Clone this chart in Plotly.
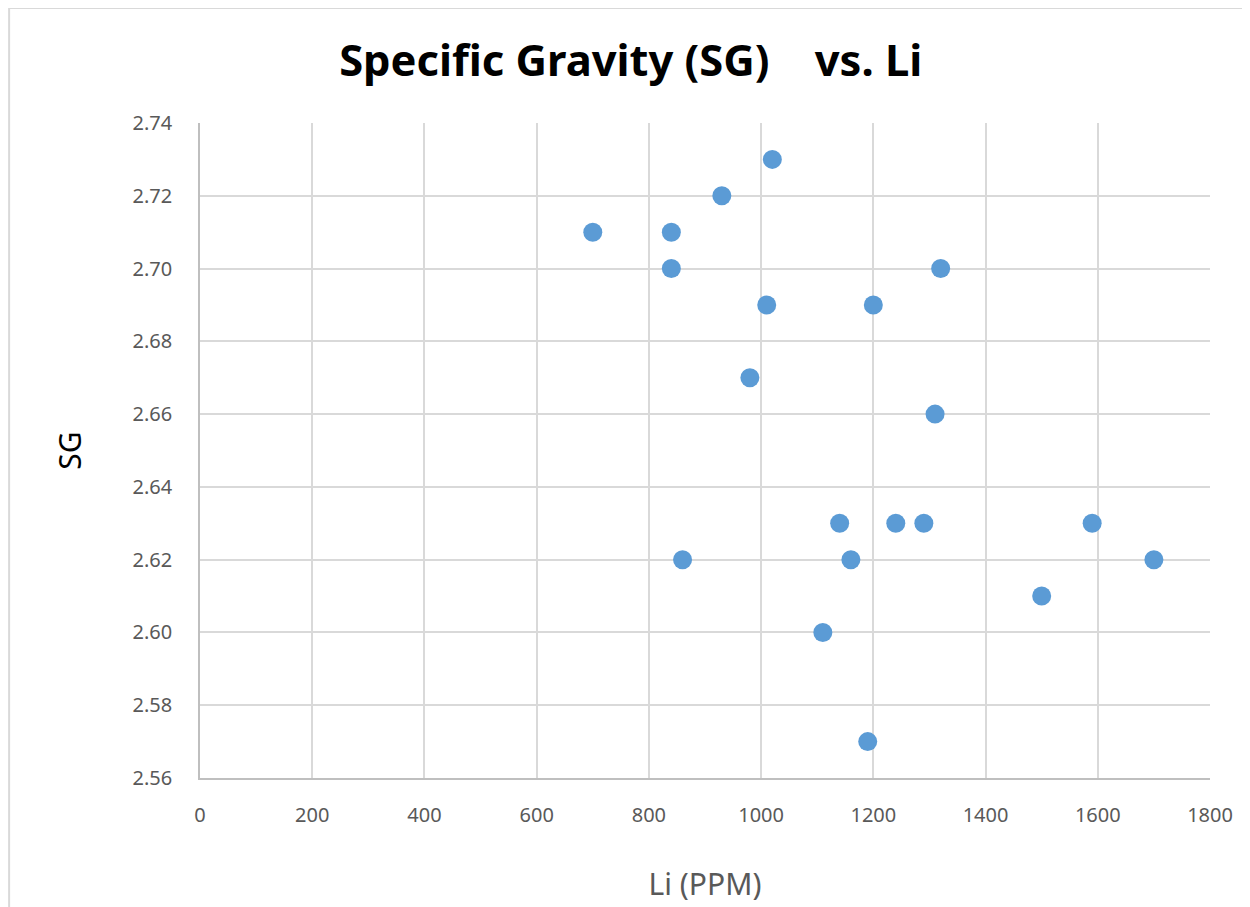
import plotly.graph_objects as go

li_ppm = [700, 840, 840, 930, 1020, 1010, 980, 1200, 1320, 1310,
          860, 1140, 1160, 1240, 1290, 1110, 1190, 1500, 1590, 1700]
sg = [2.71, 2.71, 2.70, 2.72, 2.73, 2.69, 2.67, 2.69, 2.70, 2.66,
      2.62, 2.63, 2.62, 2.63, 2.63, 2.60, 2.57, 2.61, 2.63, 2.62]

x_ticks = [0, 200, 400, 600, 800, 1000, 1200, 1400, 1600, 1800]
y_ticks = [2.56, 2.58, 2.60, 2.62, 2.64, 2.66, 2.68, 2.70, 2.72, 2.74]

FONT = "Noto Sans"
fig = go.Figure()
fig.add_trace(go.Scatter(
    x=li_ppm, y=sg, mode="markers",
    marker=dict(color="#5b9bd5", size=19, line=dict(width=0)),
    showlegend=False,
))

fig.update_layout(
    width=1243, height=900,
    margin=dict(l=192, r=41, t=115, b=130),
    paper_bgcolor="white", plot_bgcolor="white",
    title=dict(text="Specific Gravity (SG)\u00a0\u00a0\u00a0 vs. Li",
               x=0.501, xanchor="center", y=0.941, yanchor="middle",
               font=dict(family=FONT, size=43.5, color="black", weight="bold")),
    xaxis=dict(range=[0, 1800], tickvals=x_ticks, ticktext=[str(v) for v in x_ticks],
               showgrid=True, gridcolor="#d9d9d9", gridwidth=1.5,
               showline=True, linecolor="#bfbfbf", linewidth=1.5,
               zeroline=False, ticks="", ticklabelstandoff=18,
               tickfont=dict(family=FONT, size=20, color="#595959"),
               title=dict(text="Li (PPM)", standoff=47,
                          font=dict(family=FONT, size=30, color="#595959"))),
    yaxis=dict(range=[2.56, 2.74], tickvals=y_ticks, ticktext=[f"{v:.2f}" for v in y_ticks],
               showgrid=True, gridcolor="#d9d9d9", gridwidth=1.5,
               showline=True, linecolor="#bfbfbf", linewidth=1.5,
               zeroline=False, ticks="", ticklabelstandoff=22,
               tickfont=dict(family=FONT, size=20, color="#595959"),
               title=dict(text="SG", standoff=42,
                          font=dict(family=FONT, size=30, color="black"))),
    shapes=[dict(type="rect", xref="paper", yref="paper",
                 x0=-0.189, x1=1.06, y0=-0.22, y1=1.1756,
                 line=dict(color="#d9d9d9", width=2), layer="below")],
)
fig.write_html("out.html")
